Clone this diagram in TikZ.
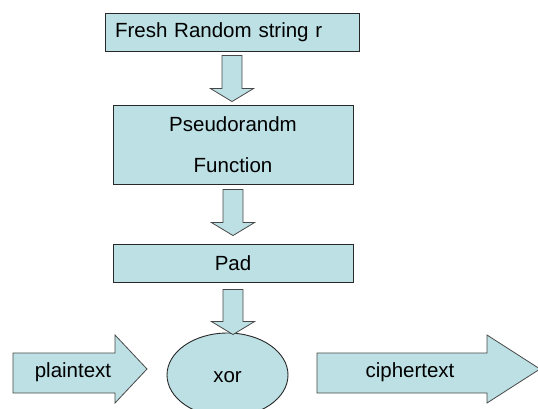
\documentclass[tikz,border=0pt]{standalone}
\usepackage{fontspec}
\setmainfont{Liberation Sans}
\usetikzlibrary{calc,shapes.geometric}

\definecolor{boxfill}{RGB}{188,224,228}
\definecolor{boxline}{RGB}{40,40,40}

\tikzset{
  stage/.style={draw=boxline, fill=boxfill, line width=0.9pt, inner sep=0pt,
    font=\fontsize{20.5}{41}\selectfont},
  blockarrow/.style={draw=boxline!85, fill=boxfill, line width=0.8pt, line join=miter},
  label/.style={inner sep=0pt, font=\fontsize{20.5}{41}\selectfont}
}

% wide downward block arrow from the bottom of #1 to the top of #2,
% leaving gap #3 below the source and gap #4 above the target
\newcommand\blockdown[4]{%
  \path[blockarrow] let \p1=($(#1.south)+(0,-#3)$), \p2=($(#2.north)+(0,#4)$) in
    (\x1-10pt,\y1) -- (\x1+10pt,\y1) -- (\x1+10pt,\y2+13pt) -- (\x1+21.5pt,\y2+13pt)
    -- (\x1,\y2) -- (\x1-21.5pt,\y2+13pt) -- (\x1-10pt,\y2+13pt) -- cycle;}

\begin{document}
\begin{tikzpicture}[x=1pt,y=1pt]
  \useasboundingbox (0,0) rectangle (538,-408);
  \clip (0,0) rectangle (538,-408);

  \node[stage, text width=234pt, inner xsep=10pt, align=left, minimum height=38pt]
    (fresh) at (232,-32) {Fresh Random string r};
  \node[stage, minimum width=240pt, minimum height=79pt, align=center]
    (prf) at (233,-144.5) {Pseudorandm\\Function};
  \node[stage, minimum width=240pt, minimum height=38pt]
    (pad) at (233,-263) {Pad};
  \node[stage, ellipse, minimum width=121pt, minimum height=84pt]
    (xor) at (227.5,-375) {};

  \blockdown{fresh}{prf}{4pt}{3pt}
  \blockdown{prf}{pad}{5pt}{8pt}
  \blockdown{pad}{xor}{7pt}{-2pt}

  % input and output arrows either side of the xor
  \path[blockarrow] (13,-353) -- (115,-353) -- (115,-335) -- (147,-369)
    -- (115,-403) -- (115,-393) -- (13,-393) -- cycle;
  \path[blockarrow] (317,-353) -- (487,-353) -- (487,-335) -- (540,-369)
    -- (487,-403) -- (487,-393) -- (317,-393) -- cycle;

  \node[label] (plain) at (73,-372) {plaintext};
  \node[label] (xortext) at (xor.center) [yshift=-2pt] {xor};
  \node[label] (cipher) at (410,-372) {ciphertext};
\end{tikzpicture}
\end{document}
